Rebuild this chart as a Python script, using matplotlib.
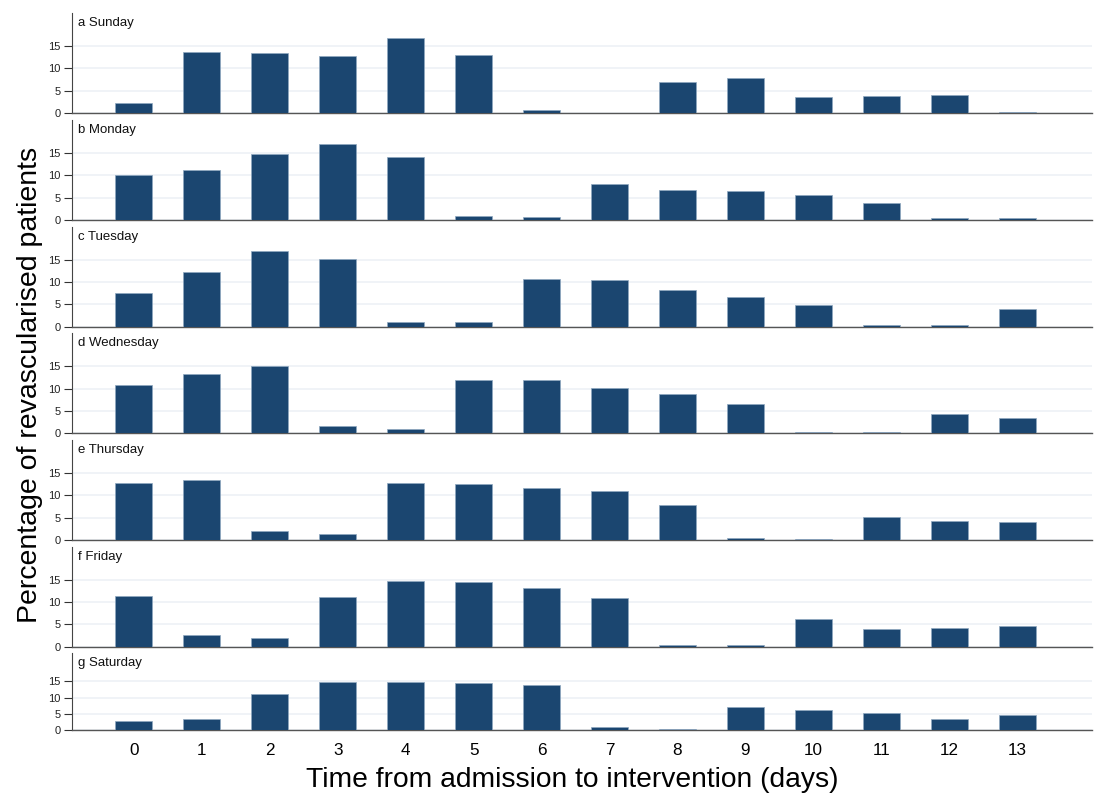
import numpy as np
import matplotlib
matplotlib.use("Agg")
import matplotlib.pyplot as plt

plt.rcParams['font.family'] = ['Liberation Sans', 'DejaVu Sans']

days = list(range(14))
panel_titles = ['a Sunday', 'b Monday', 'c Tuesday', 'd Wednesday',
                'e Thursday', 'f Friday', 'g Saturday']

sunday    = [2.2, 13.6, 13.5, 12.8, 16.7, 12.9, 0.7, 0.0, 7.0, 7.75, 3.65, 3.8, 3.95, 0.3]
monday    = [10.0, 11.25, 14.8, 17.0, 14.2, 0.9, 0.75, 8.1, 6.8, 6.4, 5.5, 3.7, 0.35, 0.35]
tuesday   = [7.6, 12.2, 17.0, 15.2, 1.05, 1.0, 10.7, 10.5, 8.2, 6.6, 4.9, 0.3, 0.3, 3.9]
wednesday = [10.9, 13.2, 15.1, 1.55, 0.9, 11.9, 11.85, 10.05, 8.9, 6.5, 0.35, 0.35, 4.25, 3.5]
thursday  = [12.7, 13.5, 2.1, 1.25, 12.75, 12.45, 11.7, 10.9, 7.9, 0.45, 0.3, 5.2, 4.3, 4.0]
friday    = [11.3, 2.55, 1.9, 11.2, 14.7, 14.4, 13.2, 10.8, 0.45, 0.35, 6.25, 3.9, 4.25, 4.55]
saturday  = [2.85, 3.4, 11.1, 14.9, 14.8, 14.5, 13.8, 0.9, 0.4, 7.0, 6.2, 5.3, 3.5, 4.8]

series = [sunday, monday, tuesday, wednesday, thursday, friday, saturday]

W, H = 1098, 798
fig = plt.figure(figsize=(W / 100, H / 100), dpi=100)

# baseline (y=0) pixel row and panel height for each row of the stack
zero_px = [113, 220, 326.7, 433.3, 540, 646.7, 730.3]
height_px = [100, 100, 100, 100, 100, 100, 77.6]
ymax = [22.4] * 6 + [23.7]
left_px, right_px = 72, 1092

bar_color = '#1b4670'
axes = []
for i, (vals, title) in enumerate(zip(series, panel_titles)):
    bottom = (H - zero_px[i]) / H
    ax = fig.add_axes([left_px / W, bottom, (right_px - left_px) / W, height_px[i] / H])
    ax.bar(days, vals, width=0.54, color=bar_color, edgecolor='#8fa8c0',
           linewidth=0.5, zorder=4)
    ax.set_xlim(-0.91, 14.1)
    ax.set_ylim(0, ymax[i])
    ax.set_yticks([0, 5, 10, 15])
    ax.tick_params(axis='y', labelsize=8, length=6, width=0.8, pad=2, colors='#333333')
    for t in ax.get_yticklabels():
        t.set_color('#222222')
    ax.yaxis.grid(True, color='#edf1f6', linewidth=1.2, zorder=0)
    ax.set_axisbelow(True)
    for s in ('top', 'right'):
        ax.spines[s].set_visible(False)
    ax.spines['left'].set_color('#444444')
    ax.spines['left'].set_linewidth(0.8)
    ax.spines['bottom'].set_color('#555555')
    ax.spines['bottom'].set_linewidth(1.0)
    ax.spines['bottom'].set_zorder(3)
    ax.text(0.006, 1 - 10 / height_px[i], title, transform=ax.transAxes,
            ha='left', va='center', fontsize=9.5, color='#111111')
    if i < 6:
        ax.set_xticks([])
    else:
        ax.set_xticks(days)
        ax.set_xticklabels([str(d) for d in days])
        ax.tick_params(axis='x', length=0, labelsize=12.3, pad=9)
    axes.append(ax)

fig.text(572 / W, (H - 780) / H,
         'Time from admission to intervention (days)',
         ha='center', va='center', fontsize=20.3)
fig.text(30 / W, (H - 385) / H, 'Percentage of revascularised patients',
         ha='center', va='center', rotation=90, fontsize=20.5)

fig.savefig('out.png', dpi=100)
